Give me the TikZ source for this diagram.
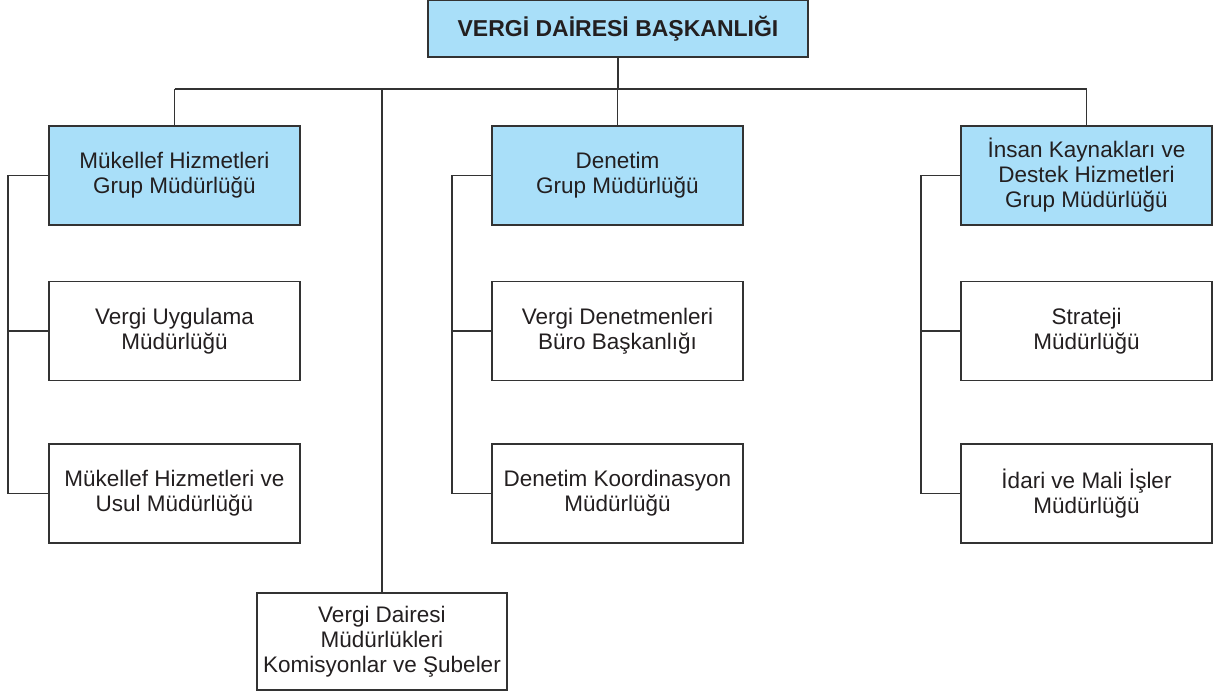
\documentclass[tikz,border=0pt]{standalone}
\usepackage{fontspec}
\setmainfont{Liberation Sans}
\definecolor{boxblue}{HTML}{A9DFF9}
\definecolor{ink}{HTML}{231F20}
\definecolor{edge}{HTML}{333333}
\begin{document}
\begin{tikzpicture}[x=1pt,y=-1pt,
  unit/.style={draw=edge,line width=1.4pt,rectangle,minimum width=251pt,minimum height=99pt,
    inner sep=0pt,align=center,text=ink,font=\fontsize{22.5}{25}\selectfont},
  grp/.style={unit,fill=boxblue},
  conn/.style={draw=edge,line width=1.4pt}]
\useasboundingbox (0,0) rectangle (1215,697);
\node[grp,minimum width=380pt,minimum height=57pt,font=\fontsize{23}{25}\selectfont\bfseries] (top) at (618,28.5) {VERGİ DAİRESİ BAŞKANLIĞI};
\node[grp] (g1) at (174.5,175.5) {Mükellef Hizmetleri\\Grup Müdürlüğü};
\node[grp] (g2) at (617.5,175.5) {Denetim\\Grup Müdürlüğü};
\node[grp] (g3) at (1086.5,175.5) {İnsan Kaynakları ve\\Destek Hizmetleri\\Grup Müdürlüğü};
\node[unit] (l1) at (174.5,331) {Vergi Uygulama\\Müdürlüğü};
\node[unit] (l2) at (174.5,493.5) {Mükellef Hizmetleri ve\\Usul Müdürlüğü};
\node[unit] (m1) at (617.5,331) {Vergi Denetmenleri\\Büro Başkanlığı};
\node[unit] (m2) at (617.5,493.5) {Denetim Koordinasyon\\Müdürlüğü};
\node[unit] (r1) at (1086.5,331) {Strateji\\Müdürlüğü};
\node[unit] (r2) at (1086.5,493.5) {İdari ve Mali İşler\\Müdürlüğü};
\node[unit,minimum width=250pt,minimum height=97pt] (vd) at (382,641.5) {Vergi Dairesi\\Müdürlükleri\\Komisyonlar ve Şubeler};
\coordinate (busL) at (174.5,89);
\coordinate (busR) at (1086.5,89);
\coordinate (sL) at (8,0);
\coordinate (sM) at (452,0);
\coordinate (sR) at (921,0);
\draw[conn] (busL) -- (busR);
\draw[conn] (top.south) -- (top.south |- busL);
\draw[conn] (busL) -- (g1.north);
\draw[conn] (busR) -- (g3.north);
\draw[conn] (g2.north |- busL) -- (g2.north);
\draw[conn] (vd.north |- busL) -- (vd.north);
\draw[conn] (g1.west) -- (g1.west -| sL) -- (l2.west -| sL) -- (l2.west);
\draw[conn] (l1.west -| sL) -- (l1.west);
\draw[conn] (g2.west) -- (g2.west -| sM) -- (m2.west -| sM) -- (m2.west);
\draw[conn] (m1.west -| sM) -- (m1.west);
\draw[conn] (g3.west) -- (g3.west -| sR) -- (r2.west -| sR) -- (r2.west);
\draw[conn] (r1.west -| sR) -- (r1.west);
\end{tikzpicture}
\end{document}
